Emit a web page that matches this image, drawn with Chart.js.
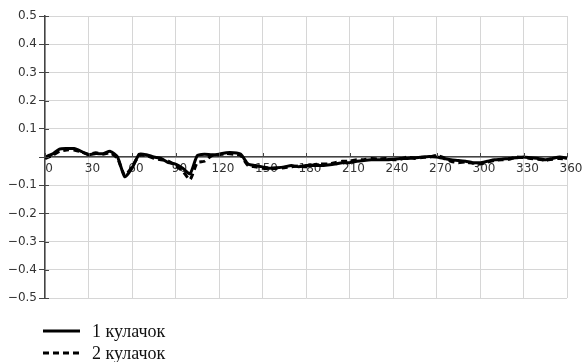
<!DOCTYPE html>
<html>
<head>
<meta charset="utf-8">
<script src="https://cdn.jsdelivr.net/npm/chart.js@4.4.1/dist/chart.umd.min.js"></script>
<style>
  html, body { margin: 0; padding: 0; background: #fff; }
  canvas { display: block; }
</style>
</head>
<body>
<canvas id="c" width="584" height="362"></canvas>
<script>
// Angle of rotation, degrees (5° step)
const angles = [];
for (let a = 0; a <= 360; a += 5) angles.push(a);

// Cam 1
const cam1 = [
  0.000, 0.010, 0.028, 0.030, 0.030, 0.020, 0.008, 0.012, 0.012, 0.020,
  0.000, -0.070, -0.040, 0.010, 0.008, 0.000, -0.005, -0.020, -0.025, -0.040,
  -0.060, 0.005, 0.010, 0.008, 0.010, 0.015, 0.015, 0.010, -0.025, -0.030,
  -0.035, -0.040, -0.038, -0.035, -0.030, -0.035, -0.030, -0.030, -0.030, -0.028,
  -0.025, -0.020, -0.020, -0.015, -0.012, -0.010, -0.010, -0.010, -0.008, -0.005,
  -0.005, -0.003, 0.000, 0.002, 0.000, -0.005, -0.010, -0.012, -0.015, -0.020,
  -0.020, -0.015, -0.010, -0.008, -0.005, -0.003, 0.000, -0.003, -0.005, -0.010,
  -0.005, 0.000, -0.005
];

// Cam 2
const cam2 = [
  -0.005, 0.005, 0.020, 0.025, 0.025, 0.018, 0.010, 0.015, 0.010, 0.015,
  -0.005, -0.065, -0.035, 0.005, 0.005, -0.005, -0.010, -0.015, -0.030, -0.050,
  -0.080, -0.020, -0.015, 0.005, 0.008, 0.012, 0.010, 0.005, -0.030, -0.035,
  -0.040, -0.042, -0.040, -0.038, -0.035, -0.032, -0.035, -0.028, -0.025, -0.025,
  -0.020, -0.015, -0.015, -0.010, -0.010, -0.005, -0.008, -0.005, -0.010, -0.008,
  0.000, -0.005, -0.002, 0.000, 0.005, -0.002, -0.015, -0.020, -0.018, -0.022,
  -0.025, -0.018, -0.012, -0.010, -0.008, 0.000, -0.002, -0.005, -0.008, -0.012,
  -0.008, -0.005, -0.008
];

const seriesNames = ['1 кулачок', '2 кулачок'];
const xTicks = [0, 30, 60, 90, 120, 150, 180, 210, 240, 270, 300, 330, 360];
const yTicks = [0.5, 0.4, 0.3, 0.2, 0.1, 0, -0.1, -0.2, -0.3, -0.4, -0.5];

const toPoints = (ys) => ys.map((v, i) => ({ x: angles[i], y: v }));

// Legend drawn under the plot: a line sample and a serif caption per series
const bottomLegend = {
  id: 'bottomLegend',
  afterDraw(chart) {
    const ctx = chart.ctx;
    const rows = [331, 353];
    chart.data.datasets.forEach((ds, i) => {
      const y = rows[i];
      ctx.save();
      ctx.strokeStyle = ds.borderColor;
      ctx.lineWidth = 3;
      ctx.setLineDash(ds.borderDash || []);
      ctx.beginPath();
      ctx.moveTo(43, y);
      ctx.lineTo(80, y);
      ctx.stroke();
      ctx.setLineDash([]);
      ctx.fillStyle = '#111';
      ctx.font = '18px "Liberation Serif", "Times New Roman", serif';
      ctx.textBaseline = 'middle';
      ctx.fillText(ds.label, 92, y + 1);
      ctx.restore();
    });
  }
};

// Short tick marks on the inner side of the y axis and above the zero line
const innerTicks = {
  id: 'innerTicks',
  afterDraw(chart) {
    const ctx = chart.ctx;
    const xs = chart.scales.x, ys = chart.scales.y;
    const left = chart.chartArea.left;
    const y0 = ys.getPixelForValue(0);
    ctx.save();
    ctx.strokeStyle = '#444';
    ctx.lineWidth = 1;
    ctx.beginPath();
    yTicks.forEach((v) => {
      const py = Math.round(ys.getPixelForValue(v)) + 0.5;
      ctx.moveTo(left, py);
      ctx.lineTo(left + 4, py);
    });
    xTicks.forEach((v) => {
      const px = Math.round(xs.getPixelForValue(v)) + 0.5;
      ctx.moveTo(px, y0);
      ctx.lineTo(px, y0 - 4);
    });
    ctx.stroke();
    ctx.restore();
  }
};

const fmt = (v) => {
  const r = Math.round(v * 10) / 10;
  if (r === 0) return '';
  return (r < 0 ? '\u2212' : '') + Math.abs(r).toFixed(1);
};

new Chart(document.getElementById('c'), {
  type: 'line',
  data: {
    datasets: [
      {
        label: seriesNames[0],
        data: toPoints(cam1),
        borderColor: '#000',
        borderWidth: 3,
        pointRadius: 0,
        tension: 0.2,
        fill: false
      },
      {
        label: seriesNames[1],
        data: toPoints(cam2),
        borderColor: '#000',
        borderWidth: 3,
        borderDash: [6, 4],
        pointRadius: 0,
        tension: 0.2,
        fill: false
      }
    ]
  },
  options: {
    responsive: false,
    animation: false,
    devicePixelRatio: 1,
    layout: { padding: { top: 16, right: 17, bottom: 64, left: 0 } },
    plugins: {
      legend: { display: false },
      tooltip: { enabled: false }
    },
    scales: {
      x: {
        type: 'linear',
        position: { y: 0 },
        min: 0,
        max: 360,
        afterBuildTicks(scale) {
          scale.ticks = xTicks.map((v) => ({ value: v }));
        },
        grid: {
          color: '#d6d6d6',
          lineWidth: 1,
          drawTicks: false
        },
        border: { display: true, color: '#444', width: 1.5 },
        ticks: {
          color: '#333',
          font: { family: 'DejaVu Sans', size: 12 },
          padding: 5,
          maxRotation: 0,
          autoSkip: false,
          labelOffset: 4,
          callback: (v) => String(v)
        }
      },
      y: {
        type: 'linear',
        min: -0.5,
        max: 0.5,
        afterBuildTicks(scale) {
          scale.ticks = yTicks.map((v) => ({ value: v }));
        },
        afterFit(scale) {
          scale.width = 45;
        },
        grid: {
          color: '#d6d6d6',
          lineWidth: 1,
          tickColor: '#444',
          tickLength: 6
        },
        border: { display: true, color: '#444', width: 1.5 },
        ticks: {
          color: '#333',
          font: { family: 'DejaVu Sans', size: 12 },
          padding: 2,
          autoSkip: false,
          callback: (v) => fmt(v)
        }
      }
    }
  },
  plugins: [bottomLegend, innerTicks]
});
</script>
</body>
</html>
